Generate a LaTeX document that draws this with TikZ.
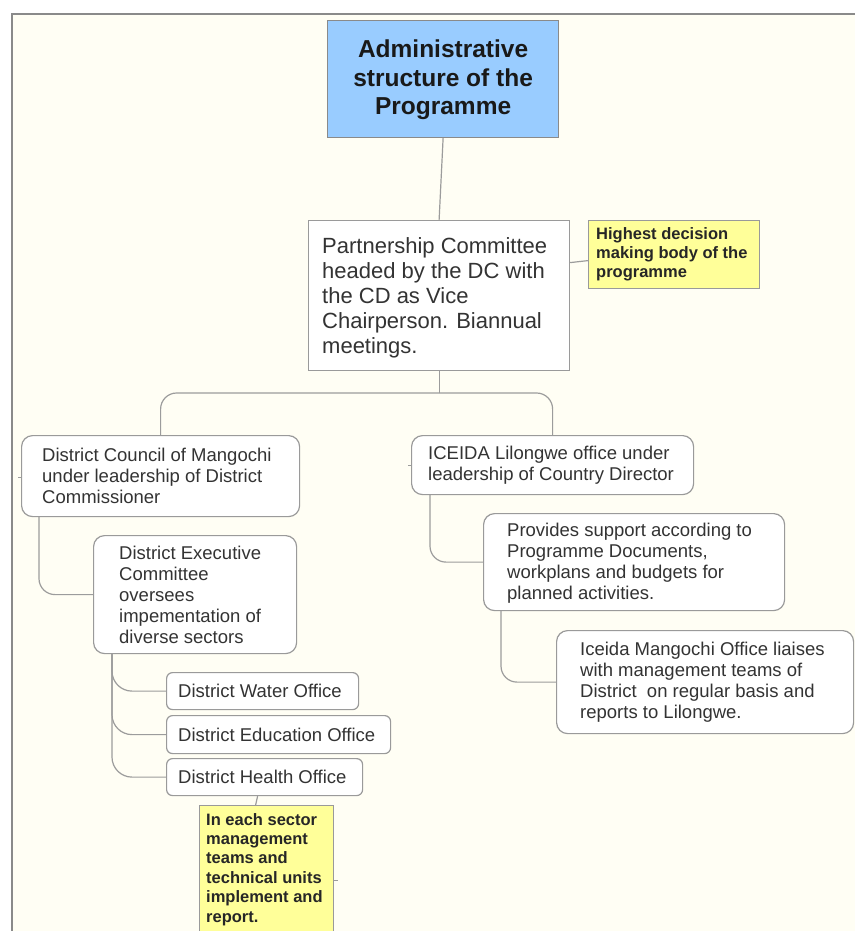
\documentclass[tikz,border=0pt]{standalone}
\usepackage{fontspec}
\setmainfont{Liberation Sans}
\usetikzlibrary{calc}
\definecolor{bgcream}{HTML}{FFFEF4}
\definecolor{framegray}{HTML}{8A8A8A}
\definecolor{boxgray}{HTML}{9A9A9A}
\definecolor{conngray}{HTML}{9C9C9C}
\definecolor{titleblue}{HTML}{99CCFF}
\definecolor{noteyellow}{HTML}{FFFF99}
\definecolor{txtgray}{HTML}{333333}
\tikzset{
  sqbox/.style={draw=boxgray, line width=1.2pt, fill=white, anchor=north west, inner sep=0pt},
  rbox/.style={sqbox, rounded corners=11pt},
  sbox/.style={sqbox, rounded corners=6pt},
  titlebox/.style={sqbox, fill=titleblue, draw=framegray},
  notebox/.style={sqbox, fill=noteyellow, draw=boxgray},
  txt/.style={anchor=west, inner sep=0pt, align=left, text=txtgray, font=\fontsize{18.5}{21}\selectfont},
  bigtxt/.style={txt, font=\fontsize{22}{25}\selectfont},
  notetxt/.style={anchor=north west, inner sep=0pt, align=left, text=black!85, font=\fontsize{16.5}{19.4}\selectfont\bfseries},
  conn/.style={draw=conngray, line width=1.2pt},
  elbow/.style={conn, rounded corners=16pt},
}
\begin{document}
\begin{tikzpicture}[x=1pt,y=-1pt]
\useasboundingbox (0,0) rectangle (855,931);
\clip (0,0) rectangle (855,931);
\fill[white] (0,0) rectangle (855,931);
\fill[bgcream] (12,14) rectangle (855,931);
\draw[framegray, line width=2pt] (12,931) -- (12,14) -- (855,14);

% title
\node[titlebox, minimum width=231pt, minimum height=117pt] (title) at (327,20) {};
\node[anchor=center, inner sep=0pt, align=center, font=\fontsize{24.5}{28.5}\selectfont\bfseries, text=black!90] (titletxt) at ([yshift=-1pt]title.center) {Administrative\\structure of the\\Programme};

% partnership committee
\node[sqbox, minimum width=261pt, minimum height=150pt] (pc) at (308,220) {};
\node[bigtxt] (pctxt) at ([xshift=14pt,yshift=-2pt]pc.west) {Partnership Committee\\headed by the DC with\\the CD as Vice\\Chairperson. Biannual\\meetings.};

% note 1
\node[notebox, minimum width=171pt, minimum height=68pt] (n1) at (588,220) {};
\node[notetxt] (n1txt) at ([xshift=8pt,yshift=-7pt]n1.north west) {Highest decision\\making body of the\\programme};

% district council
\node[rbox, minimum width=278pt, minimum height=81pt] (dc) at (21,435) {};
\node[txt] (dctxt) at ([xshift=21pt]dc.west) {District Council of Mangochi\\under leadership of District\\Commissioner};

% ICEIDA Lilongwe
\node[rbox, minimum width=282pt, minimum height=59pt] (ic) at (411,435) {};
\node[txt] (ictxt) at ([xshift=17pt]ic.west) {ICEIDA Lilongwe office under\\leadership of Country Director};

% District Executive Committee
\node[rbox, minimum width=203pt, minimum height=118pt] (dec) at (93,535) {};
\node[txt] (dectxt) at ([xshift=26pt]dec.west) {District Executive\\Committee\\oversees\\impementation of\\diverse sectors};

% Provides support
\node[rbox, minimum width=301pt, minimum height=97pt] (prov) at (483,513) {};
\node[txt] (provtxt) at ([xshift=24pt,yshift=-1pt]prov.west) {Provides support according to\\Programme Documents,\\workplans and budgets for\\planned activities.};

% Iceida Mangochi
\node[rbox, minimum width=297pt, minimum height=103pt] (mang) at (556,630) {};
\node[txt] (mangtxt) at ([xshift=24pt]mang.west) {Iceida Mangochi Office liaises\\with management teams of\\District\ \ on regular basis and\\reports to Lilongwe.};

% sector offices
\node[sbox, minimum width=192pt, minimum height=37pt] (water) at (166,672) {};
\node[txt] (watertxt) at ([xshift=12pt]water.west) {District Water Office};
\node[sbox, minimum width=224pt, minimum height=38pt] (edu) at (166,715) {};
\node[txt] (edutxt) at ([xshift=12pt]edu.west) {District Education Office};
\node[sbox, minimum width=196pt, minimum height=37pt] (health) at (166,758) {};
\node[txt] (healthtxt) at ([xshift=12pt]health.west) {District Health Office};

% note 2
\node[notebox, minimum width=134pt, minimum height=140pt] (n2) at (199,805) {};
\node[notetxt] (n2txt) at ([xshift=7pt,yshift=-8pt]n2.north west) {In each sector\\management\\teams and\\technical units\\implement and\\report.};

% connectors
\coordinate (split) at (pc.south |- 0,393);
\draw[conn] (title.south) -- (pc.north);
\draw[conn] ([yshift=-6pt]n1.west) -- ([yshift=-8pt]pc.east |- n1.west);
\draw[conn] (pc.south) -- (split);
\draw[elbow] (split) -| (dc.north);
\draw[elbow] (split) -| (ic.north);
\draw[elbow] ([xshift=18pt]dc.south west) |- (dec.west);
\draw[elbow] ([xshift=19pt]ic.south west) |- (prov.west);
\draw[elbow] ([xshift=18pt]prov.south west) |- (mang.west);
\draw[conn, rounded corners=20pt] ([xshift=19pt]dec.south west) |- (water.west);
\draw[conn, rounded corners=20pt] ([xshift=19pt]dec.south west) |- (edu.west);
\draw[conn, rounded corners=20pt] ([xshift=19pt]dec.south west) |- (health.west);
\draw[conn] ([xshift=-7pt]health.south) -- ([xshift=-11pt]n2.north);

% small stubs
\draw[conn, line width=0.8pt] ([yshift=-1.5pt]dc.west) -- ++(-3,0);
\draw[conn, line width=0.8pt] ([yshift=-0.5pt]ic.west) -- ++(-3,0);
\draw[conn, line width=0.8pt] ([yshift=-5pt]n2.east) -- ++(4,0);
\end{tikzpicture}
\end{document}
